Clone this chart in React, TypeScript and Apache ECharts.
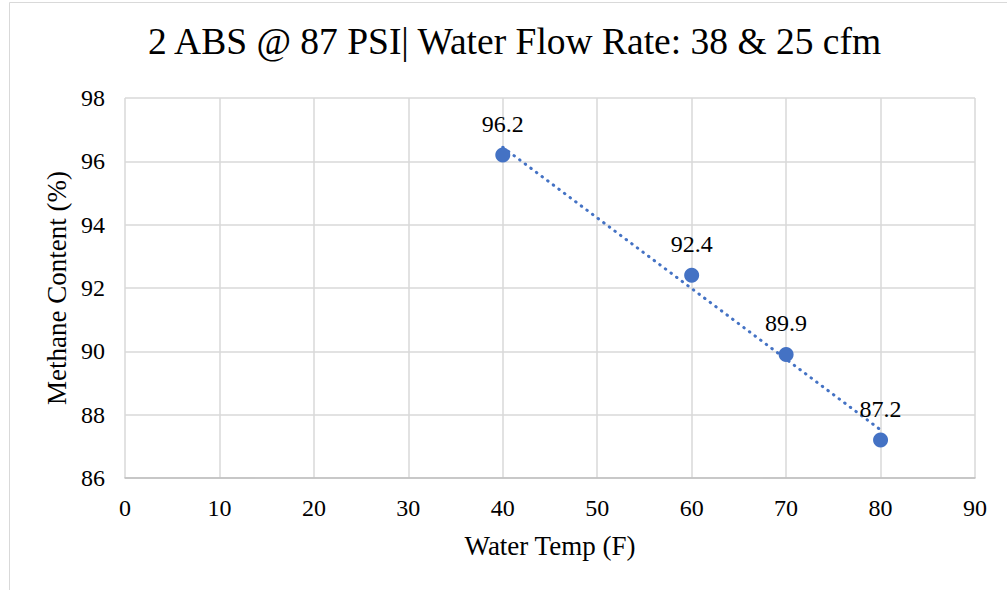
import React, { useEffect, useRef } from "react";
import * as echarts from "echarts";

const waterTemp = [40, 60, 70, 80];
const methane = [96.2, 92.4, 89.9, 87.2];
const xTicks = { min: 0, max: 90, interval: 10 };
const yTicks = { min: 86, max: 98, interval: 2 };

function linearFit(xs: number[], ys: number[]) {
  const n = xs.length;
  const mx = xs.reduce((a, b) => a + b, 0) / n;
  const my = ys.reduce((a, b) => a + b, 0) / n;
  let sxy = 0;
  let sxx = 0;
  for (let i = 0; i < n; i++) {
    sxy += (xs[i] - mx) * (ys[i] - my);
    sxx += (xs[i] - mx) * (xs[i] - mx);
  }
  const slope = sxy / sxx;
  const intercept = my - slope * mx;
  return (x: number) => intercept + slope * x;
}

export default function App() {
  const ref = useRef<HTMLDivElement>(null);
  useEffect(() => {
    if (!ref.current) return;
    const chart = echarts.init(ref.current, null, { renderer: "svg" });
    const fit = linearFit(waterTemp, methane);
    const xMin = Math.min(...waterTemp);
    const xMax = Math.max(...waterTemp);
    const font = "Times New Roman, Liberation Serif, serif";
    chart.setOption({
      animation: false,
      backgroundColor: "#ffffff",
      textStyle: { fontFamily: font },
      title: {
        text: "2 ABS @ 87 PSI| Water Flow Rate: 38 & 25 cfm",
        left: 148,
        top: 22,
        padding: 0,
        textStyle: { fontFamily: font, fontSize: 37.5, fontWeight: "normal", color: "#000000" },
      },
      graphic: [
        {
          type: "rect",
          shape: { x: 9.5, y: 2.5, width: 1100, height: 700 },
          style: { fill: "none", stroke: "#d9d9d9", lineWidth: 1 },
          silent: true,
        },
      ],
      grid: { left: 125, right: 32, top: 98, bottom: 112, containLabel: false },
      xAxis: {
        type: "value",
        min: xTicks.min,
        max: xTicks.max,
        interval: xTicks.interval,
        name: "Water Temp (F)",
        nameLocation: "middle",
        nameGap: 54,
        nameTextStyle: { fontFamily: font, fontSize: 27, color: "#000000" },
        axisLine: { show: true, lineStyle: { color: "#bfbfbf", width: 1.5 } },
        axisTick: { show: false },
        axisLabel: { fontFamily: font, fontSize: 24, color: "#000000", margin: 18 },
        splitLine: { show: true, lineStyle: { color: "#d9d9d9", width: 1.5 } },
      },
      yAxis: {
        type: "value",
        min: yTicks.min,
        max: yTicks.max,
        interval: yTicks.interval,
        name: "Methane Content (%)",
        nameLocation: "middle",
        nameGap: 52,
        nameTextStyle: { fontFamily: font, fontSize: 27, color: "#000000" },
        axisLine: { show: false },
        axisTick: { show: false },
        axisLabel: { fontFamily: font, fontSize: 24, color: "#000000", margin: 20 },
        splitLine: { show: true, lineStyle: { color: "#d9d9d9", width: 1.5 } },
      },
      series: [
        {
          type: "line",
          data: [
            [xMin, fit(xMin)],
            [xMax, fit(xMax)],
          ],
          showSymbol: false,
          symbol: "none",
          lineStyle: { color: "#4472C4", width: 3, type: [0.5, 6.5], cap: "round" },
          silent: true,
          z: 1,
        },
        {
          type: "scatter",
          data: waterTemp.map((x, i) => [x, methane[i]]),
          symbol: "circle",
          symbolSize: 15,
          itemStyle: { color: "#4472C4", opacity: 1 },
          label: {
            show: true,
            position: "top",
            distance: 12,
            fontFamily: font,
            fontSize: 24,
            color: "#000000",
            formatter: (p: any) => String(p.value[1]),
          },
          z: 3,
        },
      ],
    });
    return () => chart.dispose();
  }, []);
  return (
    <div
      ref={ref}
      style={{ position: "absolute", left: 0, top: 0, width: 1007, height: 590 }}
    />
  );
}
